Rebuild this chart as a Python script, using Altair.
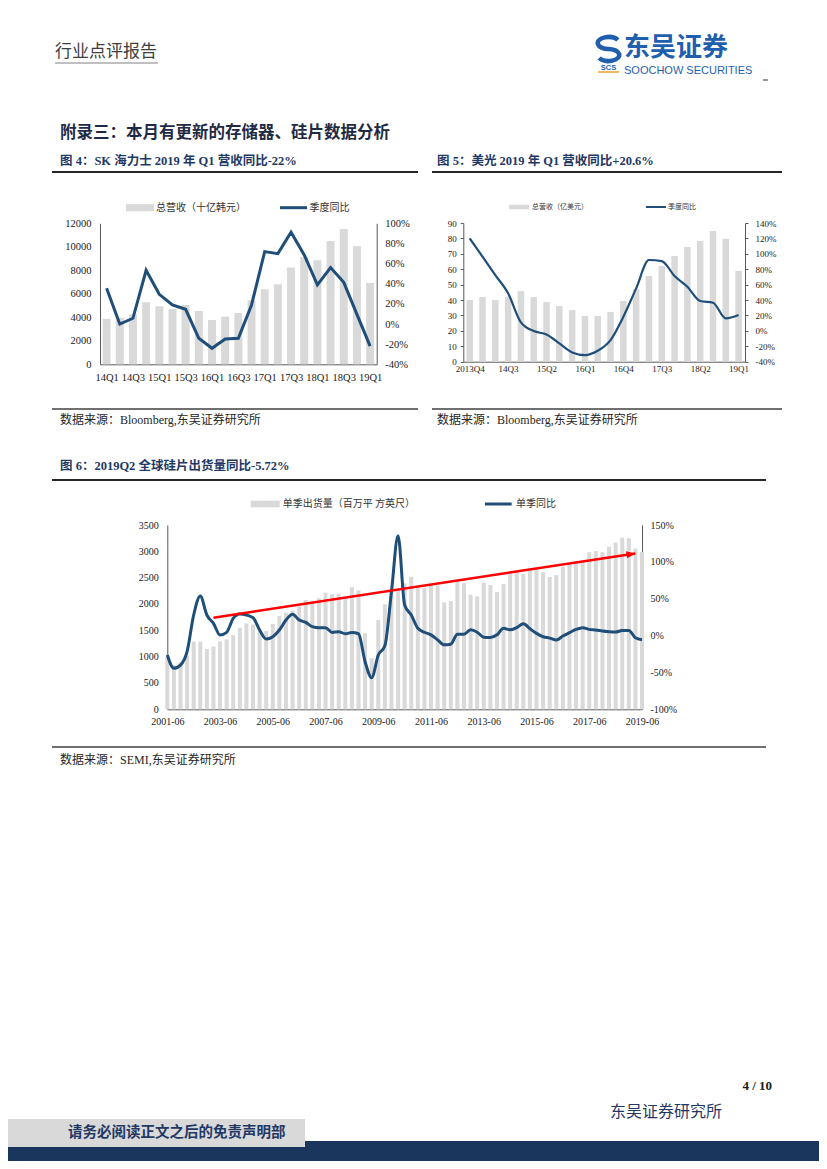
import altair as alt
import pandas as pd

W, H = 811, 1153

SERIF = "'Liberation Serif', 'Noto Sans CJK SC', serif"
CJK = "'Noto Sans CJK SC', sans-serif"
SANS = "'Liberation Sans', Arial, sans-serif"
GRAY = "#d9d9d9"
NAVY = "#1f4e79"
TITLE_NAVY = "#1f3864"
LOGO_BLUE = "#1f5fae"

# ---------------- data: figure 4 (SK Hynix) ----------------
q4 = ["14Q1", "14Q2", "14Q3", "14Q4", "15Q1", "15Q2", "15Q3", "15Q4", "16Q1", "16Q2",
      "16Q3", "16Q4", "17Q1", "17Q2", "17Q3", "17Q4", "18Q1", "18Q2", "18Q3", "18Q4", "19Q1"]
rev4 = [3860, 3970, 4250, 5280, 4940, 4710, 5050, 4540, 3770, 4060,
        4370, 5450, 6380, 6810, 8230, 9140, 8850, 10500, 11520, 10040, 6920]
yoy4 = [35.5, 0.0, 5.7, 53.3, 29.5, 18.9, 14.6, -14.2, -24.1, -14.8,
        -14.2, 18.9, 71.9, 69.9, 91.1, 68.6, 38.8, 56.0, 41.4, 9.6, -22.0]
ticks4 = q4[::2]
leg4 = ["总营收（十亿韩元）", "季度同比"]

# ---------------- data: figure 5 (Micron) ----------------
q5 = ["2013Q4", "14Q1", "14Q2", "14Q3", "14Q4", "15Q1", "15Q2", "15Q3", "15Q4", "16Q1", "16Q2",
      "16Q3", "16Q4", "17Q1", "17Q2", "17Q3", "17Q4", "18Q1", "18Q2", "18Q3", "18Q4", "19Q1"]
rev5 = [40.0, 42.0, 40.0, 42.2, 45.9, 42.0, 38.7, 36.1, 33.5, 29.7, 29.7,
        32.3, 39.4, 47.0, 55.6, 62.1, 68.6, 74.5, 78.4, 84.8, 79.7, 58.9]
yoy5 = [120.1, 96.3, 72.5, 48.7, 11.0, -0.3, -4.6, -16.3, -28.0, -31.4, -25.8,
        -11.9, 18.4, 55.2, 92.0, 90.6, 71.2, 57.3, 38.7, 36.5, 16.2, 20.6]
ticks5 = q5[::3]
leg5 = ["总营收（亿美元）", "季度同比"]

# ---------------- data: figure 6 (silicon wafer shipments) ----------------
q6 = [f"{y}-{m}" for y in range(2001, 2020) for m in ("03", "06", "09", "12")][1:74]
rev6 = [1000, 840, 890, 1020, 1284, 1284, 1145, 1190, 1290, 1328,
        1410, 1549, 1632, 1610, 1500, 1487, 1620, 1772, 1835, 1870,
        1955, 2076, 2040, 2110, 2215, 2184, 2194, 2139, 2320, 2256,
        1443, 970, 1696, 1993, 2280, 2290, 2392, 2519, 2350, 2300,
        2370, 2350, 2030, 2057, 2430, 2400, 2178, 2145, 2405, 2361,
        2228, 2377, 2590, 2620, 2570, 2627, 2658, 2601, 2519, 2551,
        2709, 2753, 2804, 2804, 2981, 3006, 2981, 3088, 3170, 3259,
        3246, 3056, 2990]
yoy6 = [-26.3, -44.4, -40.0, -21.8, 27.9, 53.7, 27.9, 16.6, 0.8, 4.4,
        23.4, 29.3, 27.9, 24.3, 7.6, -4.6, -1.5, 7.6, 21.1, 28.9,
        21.1, 17.9, 12.1, 10.6, 10.6, 4.3, 5.2, 2.5, 4.3, 2.5,
        -35.5, -57.2, -26.4, -13.8, 59.5, 135.4, 41.5, 27.9, 9.9, 4.5,
        1.0, -5.8, -12.6, -11.7, 1.9, 1.9, 7.8, 4.6, -2.2, -2.7,
        1.0, 9.9, 7.8, 10.9, 16.0, 9.3, 3.0, -1.6, -3.4, -6.1,
        -0.6, 3.9, 8.4, 10.7, 8.4, 7.5, 6.1, 5.2, 4.8, 7.0,
        7.0, -3.0, -5.72]
ticks6 = [f"{y}-06" for y in range(2001, 2020, 2)]
leg6 = ["单季出货量（百万平 方英尺）", "单季同比"]
arrow_q = ["2003-03", "2019-03"]
arrow_v = [1740, 2960]

DUMMY = pd.DataFrame({"d": [0]})


def axis(**kw):
    base = dict(grid=False, title=None, labelFont=SERIF, labelColor="#1a1a1a",
                domainColor="#595959", domainWidth=1, tickColor="#595959",
                labelOverlap=False, labelFlush=False)
    base.update(kw)
    return alt.Axis(**base)


def legend(x, y, symbol, size, sw, fs, off, font=CJK):
    return alt.Legend(orient="none", legendX=x, legendY=y, title=None, symbolType=symbol,
                      symbolSize=size, symbolStrokeWidth=sw, labelFont=font, labelFontSize=fs,
                      labelColor="#333333", labelOffset=off, padding=0)


def dual(cats, rev, yoy, leg, x0, x1, yb, yt, pad, ldom, lvals, rdom, rvals, xvals,
         fs, bar_w, line_w, interp, yticks, lp_l, lp_r, lp_x, leg_bar, leg_line):
    df = pd.DataFrame({"q": cats, "rev": rev, "yoy": yoy, "i": list(range(len(cats))),
                       "s1": leg[0], "s2": leg[1]})
    xs = alt.Scale(type="point", domain=cats, range=[x0, x1], padding=pad)
    ysl = alt.Scale(domain=ldom, range=[yb, yt], nice=False, zero=True)
    ysr = alt.Scale(domain=rdom, range=[yb, yt], nice=False, zero=False)
    bars = alt.Chart(df).mark_bar(size=bar_w).encode(
        x=alt.X("q:N", scale=xs, sort=cats,
                axis=axis(orient="bottom", offset=yb - H, values=xvals, labelAngle=0,
                          ticks=False, labelPadding=lp_x, labelFontSize=fs)),
        y=alt.Y("rev:Q", scale=ysl,
                axis=axis(orient="left", offset=-x0, values=lvals, format="d",
                          ticks=yticks, tickSize=3, labelPadding=lp_l, labelFontSize=fs)),
        color=alt.Color("s1:N", scale=alt.Scale(domain=[leg[0]], range=[GRAY]),
                        legend=leg_bar),
    )
    line = alt.Chart(df).mark_line(strokeWidth=line_w, interpolate=interp).encode(
        x=alt.X("q:N", scale=xs, sort=cats, axis=None),
        y=alt.Y("yoy:Q", scale=ysr,
                axis=axis(orient="right", offset=x1 - W, values=rvals,
                          labelExpr="datum.value + '%'", ticks=yticks, tickSize=3,
                          labelPadding=lp_r, labelFontSize=fs)),
        order=alt.Order("i:Q"),
        color=alt.Color("s2:N", scale=alt.Scale(domain=[leg[1]], range=[NAVY]),
                        legend=leg_line),
    )
    return [bars, line], xs, ysl


def txt(s, x, y, size, color="#1a1a1a", font=CJK, weight="normal", align="left"):
    return alt.Chart(DUMMY).mark_text(text=s, fontSize=size, font=font, fontWeight=weight,
                                      color=color, align=align,
                                      baseline="middle").encode(x=alt.value(x), y=alt.value(y))


def hrule(x0, x1, y, color, w):
    return alt.Chart(DUMMY).mark_rule(color=color, strokeWidth=w).encode(
        x=alt.value(x0), x2=alt.value(x1), y=alt.value(y))


def box(x0, x1, y0, y1, color):
    return alt.Chart(DUMMY).mark_rect(color=color).encode(
        x=alt.value(x0), x2=alt.value(x1), y=alt.value(y0), y2=alt.value(y1))


RECT = "M-1,-0.25H1V0.25H-1Z"
S_ICON = "M0.78,-0.75A0.9,0.5 0 1 0 0,0A0.9,0.5 0 1 1 -0.78,0.75"

c4, _, _ = dual(q4, rev4, yoy4, leg4, 92, 368.7, 356.3, 215.3, 0.5,
                [0, 12000], list(range(0, 12001, 2000)), [-40, 100], list(range(-40, 101, 20)),
                ticks4, 10.5, 8, 3, "linear", False, 9, 8, 8,
                legend(118, 185.7, RECT, 784, 0, 10, 2),
                legend(270.5, 184.7, "stroke", 729, 3, 10, 1))

c5, _, _ = dual(q5, rev5, yoy5, leg5, 455.3, 737, 353.7, 215, 0.5,
                [0, 90], list(range(0, 91, 10)), [-40, 140], list(range(-40, 141, 20)),
                ticks5, 9, 6.5, 2.2, "monotone", True, 4, 7, 3,
                legend(501, 189, "M-1,-0.225H1V0.225H-1Z", 400, 0, 7, 3),
                legend(637, 188, "stroke", 400, 2, 7, 1))

c6, xs6, ys6 = dual(q6, rev6, yoy6, leg6, 159.3, 634, 701.3, 517, 0,
                    [0, 3500], list(range(0, 3501, 500)), [-100, 150], list(range(-100, 151, 50)),
                    ticks6, 10, 4, 3, "monotone", False, 9, 8, 7,
                    legend(242.7, 481.5, "M-1,-0.23H1V0.23H-1Z", 841, 0, 10, 3),
                    legend(475.3, 481, "stroke", 713, 3, 10, 2.7))

arrow_df = pd.DataFrame({"x0": [arrow_q[0]], "x1": [arrow_q[1]],
                         "y0": [arrow_v[0]], "y1": [arrow_v[1]]})
arrow_line = alt.Chart(arrow_df).mark_rule(color="#ff0000", strokeWidth=2.5).encode(
    x=alt.X("x0:N", scale=xs6, axis=None), x2="x1",
    y=alt.Y("y0:Q", scale=ys6, axis=None), y2="y1")
arrow_head = alt.Chart(arrow_df).mark_point(
    shape="M0,0L-2,-0.8L-2,0.8Z", size=81, angle=351.2, filled=True,
    color="#ff0000", opacity=1, strokeWidth=0).encode(
    x=alt.X("x1:N", scale=xs6, axis=None),
    y=alt.Y("y1:Q", scale=ys6, axis=None))

logo_icon = alt.Chart(DUMMY).mark_point(
    shape=S_ICON, size=576, filled=False, strokeWidth=4.5, color=LOGO_BLUE, opacity=1
).encode(x=alt.value(600.5), y=alt.value(41))

deco = [
    # header
    txt("行业点评报告", 47, 44, 17, color="#404040"),
    hrule(47, 150, 55, "#808080", 1),
    logo_icon,
    txt("SCS", 600.5, 59.5, 7.5, color=LOGO_BLUE, font=SANS, weight="bold", align="center"),
    hrule(590, 611, 64, "#f0a030", 1.5),
    txt("东吴证券", 616, 39.5, 26, color=LOGO_BLUE, weight="bold"),
    txt("SOOCHOW SECURITIES", 616, 63, 11, color=LOGO_BLUE, font=SANS),
    hrule(755, 760, 72, "#333333", 1),
    # section heading
    txt("附录三：本月有更新的存储器、硅片数据分析", 52, 125, 16.5, color="#1f2a44", weight="bold"),
    txt("图 4：SK 海力士 2019 年 Q1 营收同比-22%", 52, 153, 12.5, color=TITLE_NAVY,
        font=SERIF, weight="bold"),
    txt("图 5：美光 2019 年 Q1 营收同比+20.6%", 429, 153, 12.5, color=TITLE_NAVY,
        font=SERIF, weight="bold"),
    hrule(44, 410, 164, "#262626", 2),
    hrule(424, 774, 164, "#262626", 2),
    hrule(44, 410, 401, "#404040", 1.5),
    hrule(424, 774, 401, "#404040", 1.5),
    txt("数据来源：Bloomberg,东吴证券研究所", 52, 412, 12, color="#262626", font=SERIF),
    txt("数据来源：Bloomberg,东吴证券研究所", 429, 412, 12, color="#262626", font=SERIF),
    txt("图 6：2019Q2 全球硅片出货量同比-5.72%", 52, 458, 12.5, color=TITLE_NAVY,
        font=SERIF, weight="bold"),
    hrule(44, 758, 472, "#262626", 2),
    hrule(44, 758, 739, "#404040", 1.5),
    txt("数据来源：SEMI,东吴证券研究所", 52, 752, 12, color="#262626", font=SERIF),
    # footer
    txt("4 / 10", 764, 1078, 13, color="#1a1a1a", font=SERIF, weight="bold", align="right"),
    txt("东吴证券研究所", 602, 1104, 16, color=TITLE_NAVY),
    box(0, W, 1133, H, "#1b365d"),
    box(0, 297, 1111, 1139, "#d9d9d9"),
    txt("请务必阅读正文之后的免责声明部", 60, 1125, 14.5, color=TITLE_NAVY, weight="bold"),
]

layers = c4 + c5 + c6 + [arrow_line, arrow_head] + deco

chart = alt.layer(*layers).resolve_scale(
    x="independent", y="independent", color="independent"
).resolve_axis(x="independent", y="independent").resolve_legend(
    color="independent"
).properties(
    width=W, height=H, padding=0, autosize=alt.AutoSizeParams(type="none"),
    background="white"
).configure_view(strokeWidth=0)

chart.save("out.html", embed_options={"renderer": "svg", "actions": False})
